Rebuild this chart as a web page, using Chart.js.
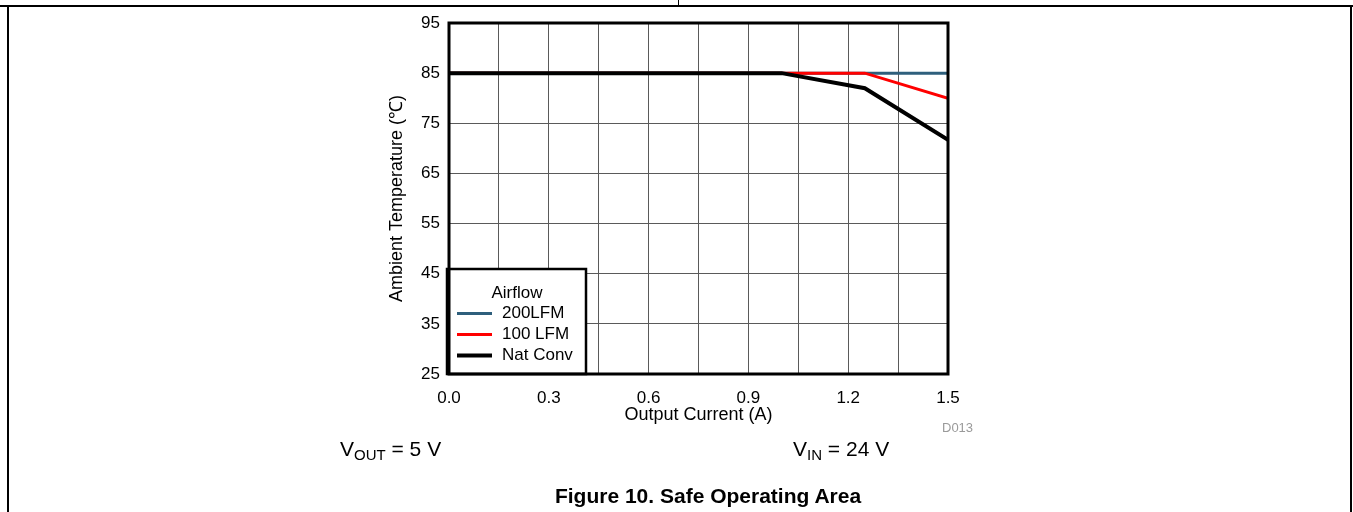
<!DOCTYPE html>
<html>
<head>
<meta charset="utf-8">
<script src="https://cdn.jsdelivr.net/npm/chart.js@4/dist/chart.umd.min.js"></script>
<style>
  html, body { margin: 0; padding: 0; background: #fff; }
  body { width: 1353px; height: 512px; position: relative; overflow: hidden; font-family: "Liberation Sans", Arial, sans-serif; }
  #wrap { position: absolute; left: 0; top: 0; width: 1353px; height: 512px; }
  .rule { position: absolute; background: #000; }
  .note { position: absolute; font-size: 21px; color: #000; white-space: nowrap; }
  .note sub { font-size: 15px; vertical-align: -4px; line-height: 0; }
  #code { position: absolute; left: 942px; top: 420px; font-size: 13px; color: #9a9a9a; }
  #caption { position: absolute; left: 0; width: 1416px; top: 484px; text-align: center; font-size: 21px; font-weight: bold; }
</style>
</head>
<body>
<div class="rule" style="left:0;top:5px;width:1353px;height:2px"></div>
<div class="rule" style="left:7px;top:6px;width:2px;height:506px"></div>
<div class="rule" style="left:1350px;top:6px;width:2px;height:506px"></div>
<div class="rule" style="left:678px;top:0;width:1px;height:6px"></div>
<div id="wrap"><canvas id="soa" width="1353" height="512"></canvas></div>
<div id="code">D013</div>
<div class="note" style="left:340px;top:437px">V<sub>OUT</sub> = 5 V</div>
<div class="note" style="left:793px;top:437px">V<sub>IN</sub> = 24 V</div>
<div id="caption">Figure 10. Safe Operating Area</div>
<script>
// Valores
const currentA = [0, 1.0, 1.25, 1.5];
const lfm200 = [85, 85, 85, 85];
const lfm100 = [85, 85, 85, 80];
const natConv = [85, 85, 82, 71.7];
const yTicks = [25, 35, 45, 55, 65, 75, 85, 95];
const xLabels = ['0.0', '0.3', '0.6', '0.9', '1.2', '1.5'];

const family = '"Liberation Sans", Arial, sans-serif';
const tickFont = { family: family, size: 17 };
const titleFont = { family: family, size: 18 };

function toPoints(ys) {
    return currentA.map((x, i) => ({ x: x, y: ys[i] }));
}

// Leyenda dibujada dentro del área, abajo a la izquierda
const legendBox = {
    id: 'legendBox',
    afterDatasetsDraw(chart) {
        const { ctx, chartArea } = chart;
        const left = chartArea.left - 2;
        const top = chartArea.bottom - 105;
        const w = 139, h = 105;
        ctx.save();
        ctx.fillStyle = '#fff';
        ctx.fillRect(left, top, w, h);
        ctx.lineWidth = 2.5;
        ctx.strokeStyle = '#000';
        ctx.strokeRect(left, top, w, h);
        ctx.fillStyle = '#000';
        ctx.font = '17px ' + family;
        ctx.textBaseline = 'middle';
        ctx.textAlign = 'center';
        ctx.fillText('Airflow', left + 70, top + 24);
        ctx.textAlign = 'left';
        const rows = [chart.data.datasets[2], chart.data.datasets[1], chart.data.datasets[0]];
        rows.forEach((ds, i) => {
            const y = top + 44.5 + i * 21;
            ctx.strokeStyle = ds.borderColor;
            ctx.lineWidth = ds.borderWidth;
            ctx.beginPath();
            ctx.moveTo(left + 10, y);
            ctx.lineTo(left + 45, y);
            ctx.stroke();
            ctx.fillStyle = '#000';
            ctx.fillText(ds.label, left + 55, y);
        });
        ctx.restore();
    }
};

// Marco grueso del área de trazado
const frame = {
    id: 'frame',
    afterDraw(chart) {
        const { ctx, chartArea } = chart;
        ctx.save();
        ctx.lineWidth = 3;
        ctx.strokeStyle = '#000';
        ctx.strokeRect(chartArea.left, chartArea.top, chartArea.right - chartArea.left, chartArea.bottom - chartArea.top);
        ctx.restore();
    }
};

new Chart(document.getElementById('soa'), {
    type: 'line',
    data: {
        datasets: [
            { label: 'Nat Conv', data: toPoints(natConv), borderColor: '#000', borderWidth: 4, order: 0 },
            { label: '100 LFM', data: toPoints(lfm100), borderColor: '#ff0000', borderWidth: 3, order: 1 },
            { label: '200LFM', data: toPoints(lfm200), borderColor: '#2e5f7c', borderWidth: 3, order: 2 }
        ]
    },
    options: {
        responsive: false,
        animation: false,
        events: [],
        elements: { point: { radius: 0 }, line: { tension: 0, borderCapStyle: 'butt' } },
        layout: { padding: { left: 382, top: 23, right: 405, bottom: 82 } },
        plugins: { legend: { display: false }, tooltip: { enabled: false } },
        scales: {
            x: {
                type: 'linear',
                min: 0,
                max: 1.5,
                afterBuildTicks: scale => {
                    scale.ticks = [];
                    for (let i = 0; i <= 10; i++) scale.ticks.push({ value: i * 0.15 });
                },
                afterFit: scale => { scale.height = 56; },
                grid: { color: '#5a5a5a', lineWidth: 1, drawTicks: false },
                border: { display: false },
                ticks: {
                    color: '#000',
                    font: tickFont,
                    padding: 14,
                    maxRotation: 0,
                    autoSkip: false,
                    callback: (v, i) => (i % 2 === 0 ? xLabels[i / 2] : '')
                },
                title: { display: true, text: 'Output Current (A)', color: '#000', font: titleFont, padding: { top: 0, bottom: 4 } }
            },
            y: {
                min: 25,
                max: 95,
                afterBuildTicks: scale => { scale.ticks = yTicks.map(v => ({ value: v })); },
                afterFit: scale => { scale.width = 67; },
                grid: { color: '#5a5a5a', lineWidth: 1, drawTicks: false },
                border: { display: false },
                ticks: { color: '#000', font: tickFont, padding: 9 },
                title: { display: true, text: 'Ambient Temperature (℃)', color: '#000', font: titleFont, padding: 4 }
            }
        }
    },
    plugins: [legendBox, frame]
});
</script>
</body>
</html>
